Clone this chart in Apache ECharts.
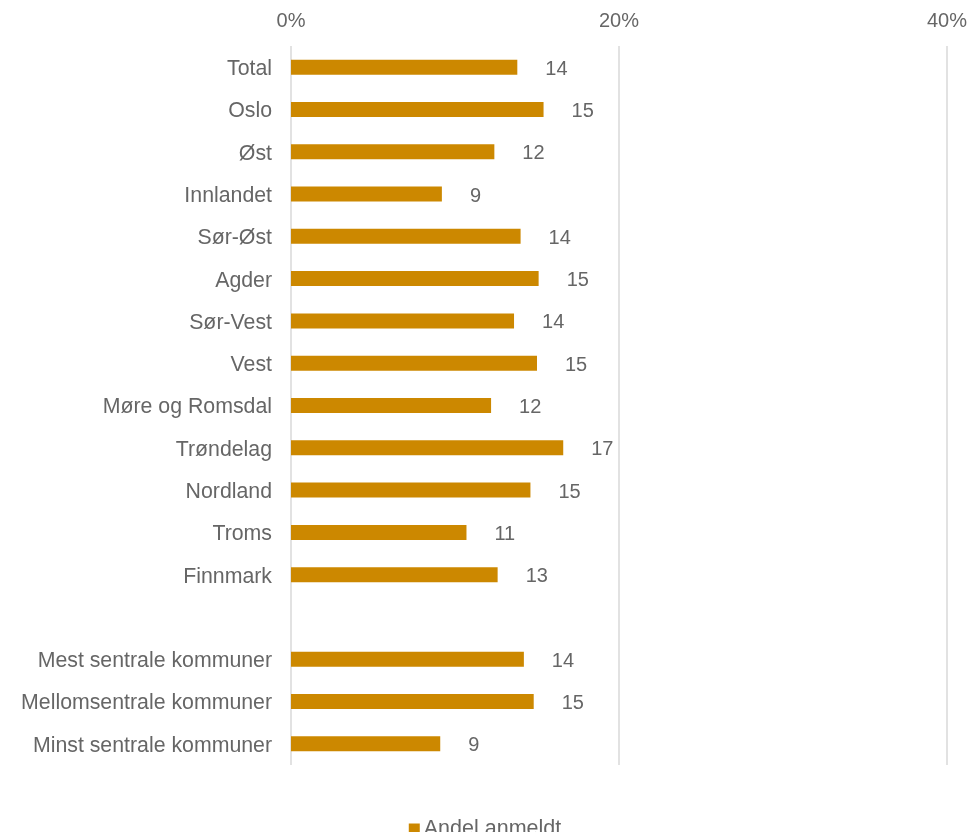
<!DOCTYPE html>
<html>
<head>
<meta charset="utf-8">
<script src="https://cdn.jsdelivr.net/npm/echarts@6/dist/echarts.min.js"></script>
<style>
html,body{margin:0;padding:0;background:#fff;}
#chart{width:970px;height:832px;}
</style>
</head>
<body>
<div id="chart"></div>
<script>
const categories = ['Total','Oslo','Øst','Innlandet','Sør-Øst','Agder','Sør-Vest','Vest','Møre og Romsdal','Trøndelag','Nordland','Troms','Finnmark','','Mest sentrale kommuner','Mellomsentrale kommuner','Minst sentrale kommuner'];
const andelAnmeldt = [13.8,15.4,12.4,9.2,14.0,15.1,13.6,15.0,12.2,16.6,14.6,10.7,12.6,null,14.2,14.8,9.1];
const seriesName = 'Andel anmeldt';
const xTicks = {min:0, max:40, interval:20};

const chart = echarts.init(document.getElementById('chart'));
const textColor = '#666666';
const font = 'Liberation Sans, Arial, sans-serif';
chart.setOption({
  animation:false,
  grid:{left:291, right:22, top:46, bottom:67, containLabel:false},
  legend:{
    data:[seriesName], top:813, left:'center',
    icon:'rect', itemWidth:11, itemHeight:11, itemGap:5,
    textStyle:{color:textColor, fontSize:21.5, fontFamily:font, padding:[0,0,0,-1]}
  },
  xAxis:{
    type:'value', position:'top',
    min:xTicks.min, max:xTicks.max, interval:xTicks.interval,
    axisLabel:{formatter:'{value}%', color:textColor, fontSize:20, fontFamily:font, margin:15},
    axisLine:{show:false}, axisTick:{show:false},
    splitLine:{show:true, lineStyle:{color:'#d9d9d9', width:1.5}}
  },
  yAxis:{
    type:'category', inverse:true, data:categories,
    axisLabel:{color:textColor, fontSize:21.3, fontFamily:font, margin:19,
      formatter: v => v ? '{a|' + v + '}' : '',
      rich:{a:{color:textColor, fontSize:21.3, fontFamily:font, padding:[4,0,0,0]}}},
    axisLine:{show:false}, axisTick:{show:false}
  },
  series:[{
    name:seriesName, type:'bar', data:andelAnmeldt, barWidth:15,
    itemStyle:{color:'#CC8800'},
    label:{show:true, position:'right', distance:28, offset:[0,2], color:textColor, fontSize:20, fontFamily:font,
      formatter:p => p.value == null ? '' : Math.round(p.value)}
  }]
});
</script>
</body>
</html>
